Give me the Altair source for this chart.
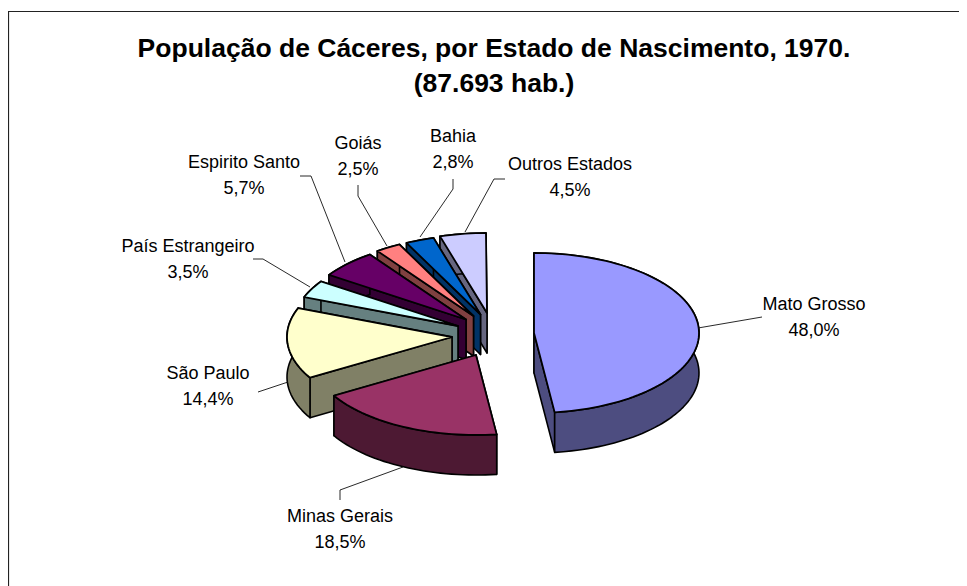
import math
import altair as alt

# ---- chart values ----
states = ["Mato Grosso", "Minas Gerais", "São Paulo", "País Estrangeiro",
          "Espirito Santo", "Goiás", "Bahia", "Outros Estados"]
shares = [48.0, 18.5, 14.4, 3.5, 5.7, 2.5, 2.8, 4.5]
title_lines = ["População de Cáceres, por Estado de Nascimento, 1970.", "(87.693 hab.)"]

# ---- styles ----
top_colors = ["#9999FF", "#993366", "#FFFFCC", "#CCFFFF", "#660066", "#FF8080", "#0066CC", "#CCCCFF"]
wall_colors = ["#4D4D80", "#4D1933", "#808066", "#668080", "#330033", "#804040", "#003366", "#666680"]

# ---- layout (page pixels) ----
RX, RY, DEPTH = 165, 80, 40
apexes = [(534, 333), (476, 355), (452, 337), (458, 326), (466, 319.5), (473.5, 316), (480.5, 314.5), (487, 313)]
label_pos = [(814, 305), (340, 517), (208, 374), (188, 247), (244, 163), (358, 144), (453, 137), (570, 165)]
LINE_GAP = 25.5
leaders = [
    [(698, 328), (762, 317)],
    [(403, 467), (340, 490), (340, 500)],
    [(288, 382), (258, 392)],
    [(310, 287), (263, 259), (253, 259)],
    [(345, 262), (311, 176), (300, 176)],
    [(387, 246), (358, 196), (358, 185)],
    [(420, 237), (453, 189), (453, 179)],
    [(465, 232), (494, 179), (505, 179)],
]
PAGE_W, PAGE_H = 967, 586


def rim(apex, a0, a1):
    n = max(2, int(abs(a1 - a0) / 2) + 1)
    pts = []
    for i in range(n + 1):
        t = math.radians(a0 + (a1 - a0) * i / n)
        pts.append((apex[0] + RX * math.sin(t), apex[1] - RY * math.cos(t)))
    return pts


def down(pts):
    return [(x, y + DEPTH) for x, y in pts]


def poly(pts, fill, sw=1.6):
    ring = [list(p) for p in pts] + [list(pts[0])]
    return {"type": "Feature", "geometry": {"type": "Polygon", "coordinates": [ring]},
            "properties": {"fill": fill, "sw": sw}}


def line(pts):
    return {"type": "Feature", "geometry": {"type": "LineString", "coordinates": [list(p) for p in pts]},
            "properties": {}}


# slice angles from the shares
angles = [0.0]
for s in shares:
    angles.append(angles[-1] + s * 3.6)

slices = []
draw_order = [7, 6, 5, 4, 3, 2, 1, 0]
for i in draw_order:
    a0, a1 = angles[i], angles[i + 1]
    ap = apexes[i]
    arc = rim(ap, a0, a1)
    wall = wall_colors[i]
    # the radial wall that faces the viewer goes last of the two
    edges = (arc[0], arc[-1]) if a0 < 180 else (arc[-1], arc[0])
    for edge in edges:
        slices.append(poly([ap, edge, (edge[0], edge[1] + DEPTH), (ap[0], ap[1] + DEPTH)], wall))
    slices.append(poly(arc + down(arc)[::-1], wall))
    slices.append(poly([ap] + arc, top_colors[i], 1.8))

leader_feats = [line(p) for p in leaders]
border = [line([(8.5, PAGE_H), (8.5, 11.5), (PAGE_W, 11.5)])]

label_rows = []
for name, s, (x, y) in zip(states, shares, label_pos):
    label_rows.append({"lon": x, "lat": y, "t": name})
    label_rows.append({"lon": x, "lat": y + LINE_GAP, "t": f"{s:.1f}%".replace(".", ",")})

title_rows = [{"lon": 494, "lat": 49, "t": title_lines[0]},
              {"lon": 494, "lat": 84, "t": title_lines[1]}]

proj = alt.Projection(type="identity", scale=1, translate=[-8, -8])

pie = alt.Chart(alt.Data(values=slices)).mark_geoshape(stroke="black", strokeJoin="round").encode(
    fill=alt.Fill("properties.fill:N", scale=None),
    strokeWidth=alt.StrokeWidth("properties.sw:Q", scale=None),
).project(**proj.to_dict())

leader_layer = alt.Chart(alt.Data(values=leader_feats)).mark_geoshape(
    filled=False, stroke="#111111", strokeWidth=0.9).project(**proj.to_dict())

border_layer = alt.Chart(alt.Data(values=border)).mark_geoshape(
    filled=False, stroke="#222222", strokeWidth=1.2).project(**proj.to_dict())

labels = alt.Chart(alt.Data(values=label_rows)).mark_text(
    font="Liberation Sans", fontSize=18, color="black", align="center", baseline="middle"
).encode(longitude="lon:Q", latitude="lat:Q", text="t:N").project(**proj.to_dict())

titles = alt.Chart(alt.Data(values=title_rows)).mark_text(
    font="Liberation Sans", fontSize=26.5, fontWeight="bold", color="black", align="center", baseline="middle"
).encode(longitude="lon:Q", latitude="lat:Q", text="t:N").project(**proj.to_dict())

chart = alt.layer(border_layer, pie, leader_layer, labels, titles).properties(
    width=PAGE_W - 16, height=PAGE_H - 8, padding=0,
    autosize=alt.AutoSizeParams(type="none"),
    background="white",
).configure_view(stroke=None)

chart.save("out.html", embed_options={"renderer": "svg", "actions": False})
